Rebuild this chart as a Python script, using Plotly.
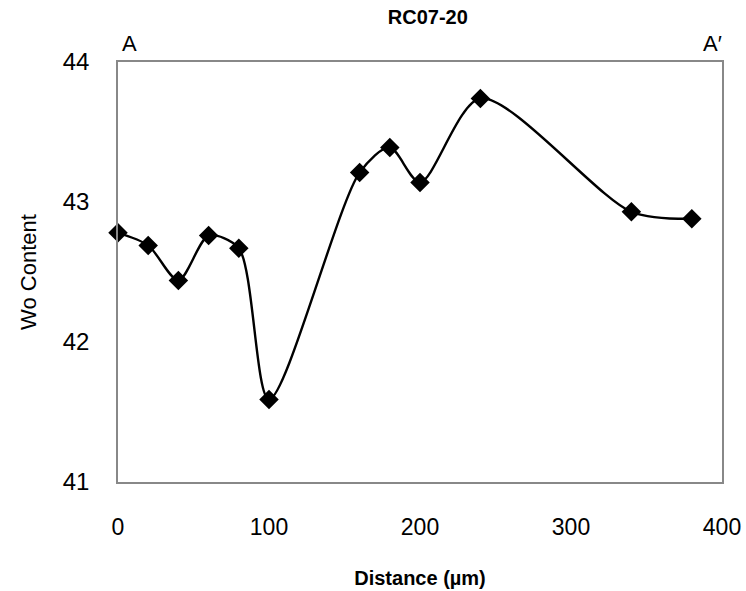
import plotly.graph_objects as go

distance = [0, 20, 40, 60, 80, 100, 160, 180, 200, 240, 340, 380]
wo_content = [42.78, 42.69, 42.44, 42.76, 42.67, 41.59, 43.21, 43.39, 43.14, 43.74, 42.93, 42.88]

x_ticks = [0, 100, 200, 300, 400]
y_ticks = [41, 42, 43, 44]

fig = go.Figure()
fig.add_trace(go.Scatter(
    x=distance, y=wo_content, mode="lines+markers",
    line=dict(color="black", width=2.4, shape="spline", smoothing=0.8),
    marker=dict(symbol="diamond", size=15, color="black"),
    cliponaxis=False, showlegend=False,
))

font = "Liberation Sans, Arial, sans-serif"
fig.update_layout(
    width=746, height=591,
    margin=dict(l=118, r=24, t=62, b=109),
    paper_bgcolor="white", plot_bgcolor="white",
    title=dict(text="<b>RC07-20</b>", x=0.5735, xanchor="center", y=0.971, yanchor="middle",
               font=dict(family=font, size=20, color="black")),
    font=dict(family=font, color="black"),
    xaxis=dict(range=[0, 400], tickvals=x_ticks, showgrid=False, zeroline=False,
               showline=True, linecolor="#888", linewidth=1.5, mirror=True, automargin=False,
               ticks="", tickfont=dict(size=23, color="black"), ticklabelstandoff=24,
               title=dict(text="<b>Distance (µm)</b>", font=dict(size=20, color="black"), standoff=32)),
    yaxis=dict(range=[41, 44], tickvals=y_ticks, showgrid=False, zeroline=False,
               showline=True, linecolor="#888", linewidth=1.5, mirror=True, automargin=False,
               ticks="", tickfont=dict(size=24, color="black"), ticklabelstandoff=22,
               title=dict(text="Wo Content", font=dict(size=22, color="black"), standoff=20)),
)
fig.add_annotation(text="A", x=0, xref="x", xanchor="left", xshift=2, y=1, yref="paper",
                   yanchor="bottom", yshift=4, showarrow=False, font=dict(size=22, family=font))
fig.add_annotation(text="A′", x=400, xref="x", xanchor="right", xshift=2, y=1, yref="paper",
                   yanchor="bottom", yshift=4, showarrow=False, font=dict(size=22, family=font))

fig.write_html("out.html")
